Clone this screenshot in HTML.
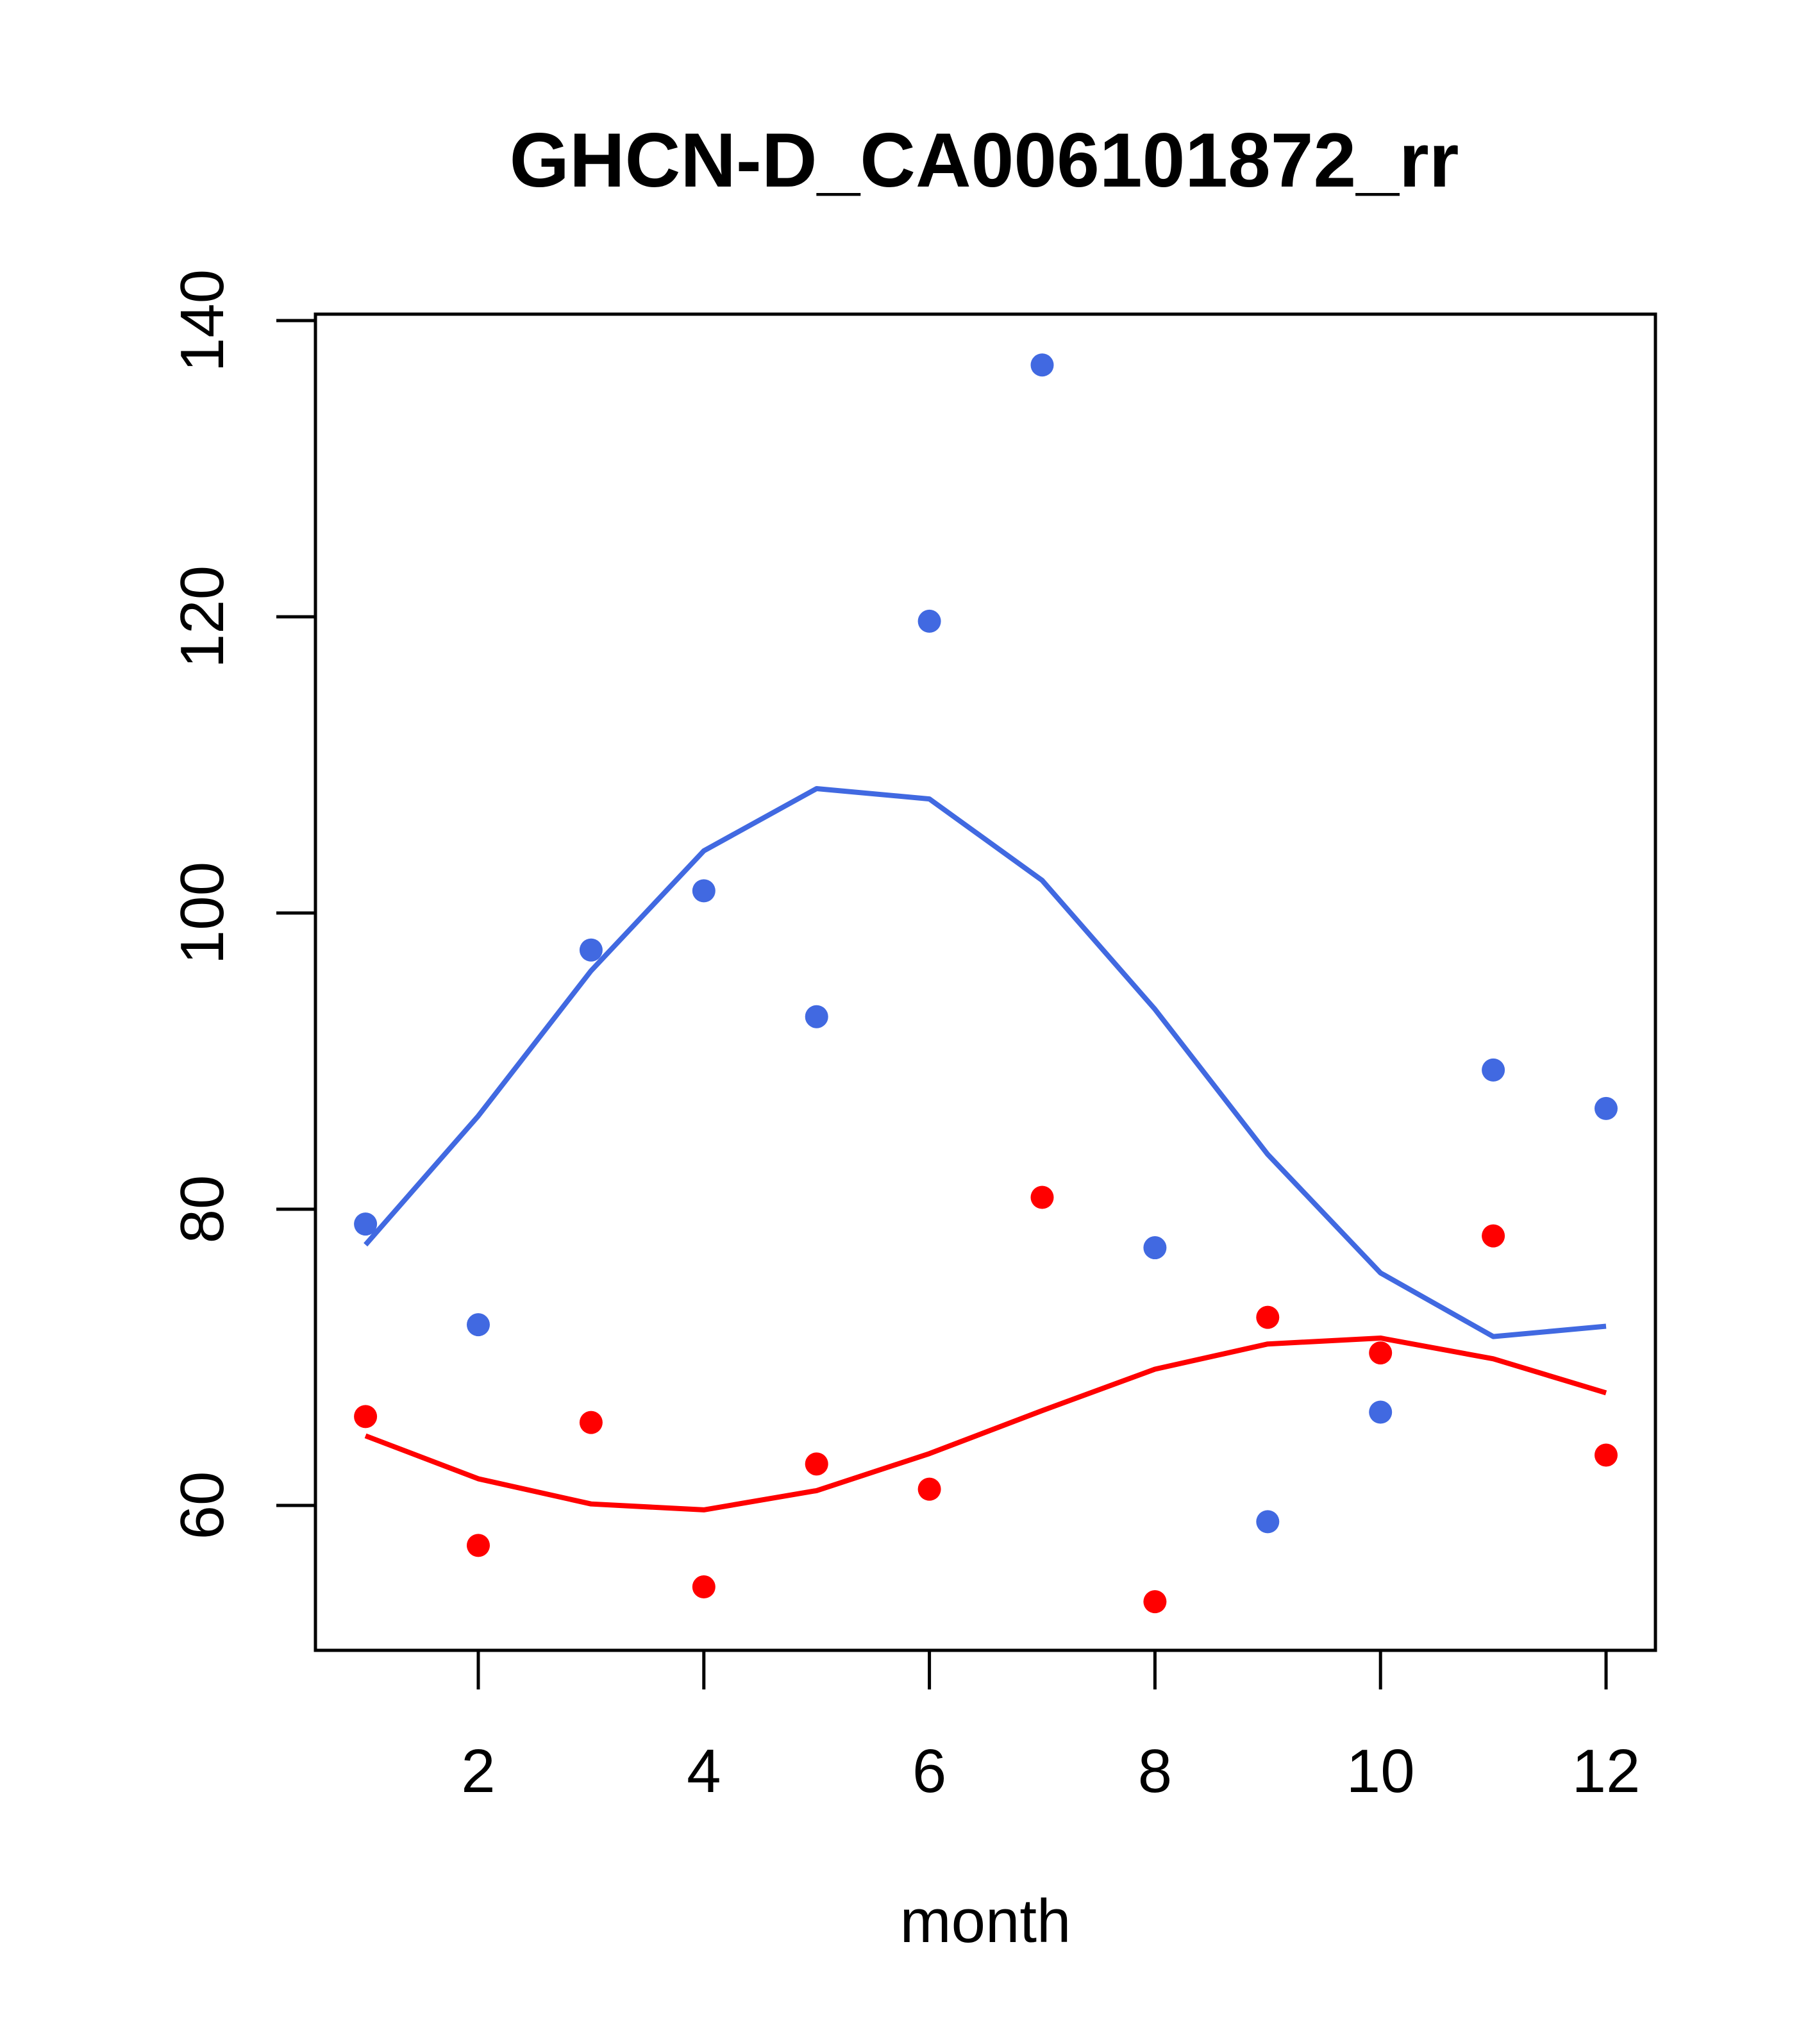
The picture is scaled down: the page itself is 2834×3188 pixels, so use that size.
<!DOCTYPE html>
<html>
<head>
<meta charset="utf-8">
<style>
html,body{margin:0;padding:0;background:#fff;}
svg{display:block;}
text{font-family:"Liberation Sans",sans-serif;fill:#000;}
</style>
</head>
<body>
<svg id="chart" width="2834" height="3188" viewBox="0 0 2834 3188" xmlns="http://www.w3.org/2000/svg">
<rect x="0" y="0" width="2834" height="3188" fill="#fff"/>
<text x="1535" y="291" font-size="120" font-weight="bold" text-anchor="middle">GHCN-D_CA006101872_rr</text>
<rect x="492" y="490" width="2090" height="2084" fill="none" stroke="#000" stroke-width="5"/>
<text x="1537" y="3029" font-size="96" text-anchor="middle">month</text>
<g id="axes"></g>
<g id="marks"></g>
</svg>
<script>
const months = [1,2,3,4,5,6,7,8,9,10,11,12];
const bluePoints = [79.0,72.2,97.5,101.5,93.0,119.7,137.0,77.4,58.9,66.3,89.4,86.8];
const blueLine = [77.6,86.3,96.1,104.2,108.4,107.7,102.2,93.5,83.7,75.7,71.4,72.1];
const redPoints = [66.0,57.3,65.6,54.5,62.8,61.1,80.8,53.5,72.7,70.3,78.2,63.4];
const redLine = [64.7,61.8,60.1,59.7,61.0,63.5,66.4,69.2,70.9,71.3,69.9,67.6];
const xTicks = [2,4,6,8,10,12];
const yTicks = [60,80,100,120,140];

const NS = "http://www.w3.org/2000/svg";
function xs(v){ return 746 + (v-2)*(2505-746)/10; }
function ys(v){ return 2348 - (v-60)*(2348-500)/80; }
function mk(tag, attrs, parent){
  const e = document.createElementNS(NS, tag);
  for (const k in attrs) e.setAttribute(k, attrs[k]);
  parent.appendChild(e);
  return e;
}
const axes = document.getElementById('axes');
const marks = document.getElementById('marks');

let xa = mk('line',{x1:xs(2),x2:xs(12),y1:2574,y2:2574,stroke:'#000','stroke-width':5},axes);


xTicks.forEach(t=>{
  const l = mk('line',{x1:xs(t),x2:xs(t),y1:2574,y2:2635,stroke:'#000','stroke-width':5},axes);
  
  
  const tx = mk('text',{x:xs(t),y:2795,'font-size':96,'text-anchor':'middle'},axes);
  tx.textContent = t;
  
  
});
let ya = mk('line',{x1:492,x2:492,y1:ys(60),y2:ys(140),stroke:'#000','stroke-width':5},axes);


yTicks.forEach(t=>{
  const l = mk('line',{x1:431,x2:492,y1:ys(t),y2:ys(t),stroke:'#000','stroke-width':5},axes);
  
  
  const tx = mk('text',{x:0,y:0,'font-size':96,'text-anchor':'middle',transform:'translate(348,'+ys(t)+') rotate(-90)'},axes);
  tx.textContent = t;
  
  
});

function drawLine(vals, color, name){
  const pts = months.map((m,i)=>xs(m)+','+ys(vals[i])).join(' ');
  const p = mk('polyline',{points:pts,fill:'none',stroke:color,'stroke-width':8,'stroke-linejoin':'round'},marks);
  
  
}
function drawPoints(vals, color, name){
  months.forEach((m,i)=>{
    const c = mk('circle',{cx:xs(m),cy:ys(vals[i]),r:18,fill:color},marks);
    
    
  });
}
drawLine(blueLine,'#4169E1','blue-smooth-line');
drawLine(redLine,'#FF0000','red-smooth-line');
drawPoints(bluePoints,'#4169E1','blue-point');
drawPoints(redPoints,'#FF0000','red-point');
</script>
</body>
</html>
